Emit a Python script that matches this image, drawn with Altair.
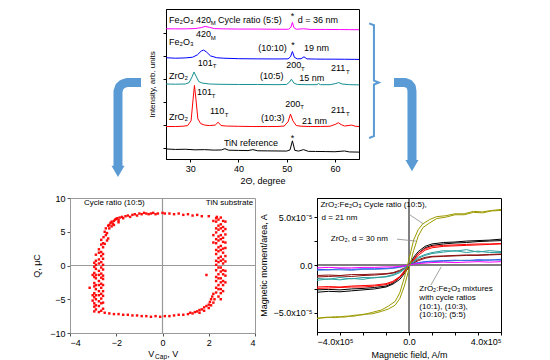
import altair as alt
import pandas as pd

FONT = "Liberation Sans"
ARROW = "#5b9bd5"

# ---------------- XRD patterns (top panel) ----------------
XRD_NAMES = ["TiN", "r103", "r105", "r1010", "r55"]
XRD_COLORS = ["#000000", "#ff0000", "#148f8f", "#0000ff", "#ff00ff"]
TIN_T = [25, 27, 29, 31, 33, 35, 36.5, 37.2, 38, 40, 42, 43, 44, 46, 48, 50, 50.7, 51.2, 51.7, 52.5, 53.5, 54.5, 56, 58, 60, 62, 63, 65]
TIN_I = [10.5, 10, 10.2, 9.6, 9.8, 9.3, 9.5, 10.8, 9.2, 9, 8.8, 9.8, 8.6, 8.5, 8.4, 8.3, 9.5, 19, 9, 8.3, 9.8, 8, 7.9, 7.8, 7.6, 8.4, 7.4, 7.2]
R_T = [25, 27, 28.5, 29.5, 30.2, 30.6, 30.9, 31.2, 31.6, 32.2, 33, 34, 35.2, 35.8, 36.4, 37.5, 40, 43, 46, 48, 49.5, 50.3, 50.8, 51.3, 52, 53, 55, 57, 59, 60.2, 60.7, 61.3, 62, 63.5, 64.2, 65]
R_I = [34, 34, 34.3, 35, 40, 62, 77, 63, 42, 37, 35.5, 35, 35.5, 38.5, 35, 34.5, 34.2, 34, 34, 34, 34.5, 39, 47, 40, 35, 34.3, 34, 34, 34.3, 36.5, 38, 36, 34.5, 35.5, 34.3, 34]
T_T = [25, 27, 29, 29.8, 30.4, 30.8, 31.2, 31.8, 32.5, 34, 36, 40, 44, 48, 50, 50.6, 51, 51.5, 52.2, 54, 56.3, 56.6, 57, 59, 60.2, 60.8, 61.5, 63, 65]
T_I = [78.5, 78.3, 78.5, 80, 86, 91, 87, 81, 79.5, 78.5, 78.2, 78, 78, 77.8, 78, 80.5, 83.5, 79.5, 78, 77.8, 77.8, 79, 77.8, 77.8, 79, 80, 78.5, 77.8, 77.6]
B_T = [25, 27, 29, 30.5, 31.5, 32.3, 32.8, 33.4, 34.2, 35.5, 37, 40, 44, 48, 50.3, 50.8, 51.2, 51.6, 52.2, 53, 53.6, 54.2, 56, 58, 60, 62, 64, 65]
B_I = [106, 105.5, 105.8, 106.5, 109, 113, 114, 112, 108, 106, 105.5, 105, 104.8, 104.7, 104.8, 107, 112.5, 106.5, 104.8, 105, 107, 104.8, 104.6, 104.5, 104.5, 104.4, 104.3, 104.2]
M_T = [25, 27, 29, 31, 32.3, 33.1, 34, 35, 37, 40, 44, 48, 50.4, 50.9, 51.2, 51.5, 52, 53.5, 55, 58, 61, 63, 65]
M_I = [136.3, 136.2, 136.2, 136.5, 137.5, 138.8, 137.8, 136.5, 136.2, 136, 136, 135.8, 135.8, 138, 143, 137.5, 135.8, 136.3, 135.6, 135.6, 135.5, 135.4, 135.3]

# ---------------- Q–V loop (bottom left) ----------------
Q_COLS = [
    (-3.02, [-5.2, -4.4, -1.4]),
    (-2.95, [-6.8, -6.1, -5.6, -4.7, -4.1, -3.1, -2.6, -1.7, -1.1, -0.2, 0.4]),
    (-2.88, [-6.5, -5.9, -5.0, -4.4, -3.5, -2.9, -1.9, -1.4, -0.5, 0.1, 0.7, 1.6]),
    (-2.75, [-6.9, -6.0, -5.3, -4.4, -3.8, -2.9, -2.3, -1.4, -0.8, 0.3, 0.9, 1.9, 2.4]),
    (-2.65, [-6.7, -5.6, -4.9, -4.2, -3.3, -2.7, -1.8, -1.2, -0.3, 0.5, 1.4, 2.0, 3.1, 3.8]),
    (-2.57, [-6.4, -5.5, -4.5, -3.8, -2.9, -2.0, -1.5, -0.6, 0.1, 1.0, 1.7, 2.7, 3.3]),
    (2.2, [4.5, 3.4, 6.6]),
    (2.32, [-4.0, -3.3, -2.3, -1.7, -0.7, 0.1, 0.7, 1.7, 2.3, 3.3, 3.9, 4.9, 5.5, 6.5, 7.0]),
    (2.42, [-4.6, -3.5, -2.9, -1.9, -1.3, -0.3, 0.5, 1.1, 2.1, 2.7, 3.7, 4.3, 5.3, 5.9, 6.8]),
    (2.52, [-5.0, -4.1, -3.5, -2.5, -1.9, -0.9, -0.3, 0.7, 1.3, 2.3, 2.9, 3.9, 4.5, 5.5, 6.1, 7.1]),
    (2.62, [-3.8, -2.9, -2.3, -1.3, -0.7, 0.3, 0.9, 1.9, 2.5, 3.5, 4.1, 5.1, 5.7, 6.6]),
    (2.72, [-2.5, -1.5, -0.8, 0.6, 1.4, 2.6, 3.4, 4.6, 5.4, 6.5]),
]
Q_BX = [-2.55, -2.5, -2.45, -2.4, -2.35, -2.3, -2.25, -2.2, -2.15, -2.1, -2.05, -2.0, -1.95, -1.9, -1.85, -1.75,
        -1.7, -1.6, -1.5, -1.4, -1.3, -1.2, -1.1, -1.0, -0.9, -0.8, -0.7, -0.6, -0.5, -0.4, -0.3, -0.2, 0.0, 0.1,
        0.3, 0.5, 0.7, 0.9, 1.1, 1.3, 1.5, 1.7, 2.0, 2.35, -2.3, -2.2, -2.1, -1.9, -2.45, -2.4, -2.5, -2.35, -3.15,
        -2.5, -2.3, -2.1, -1.9, -1.7, -1.5, -1.3, -1.1, -0.9, -0.7, -0.5, -0.3, -0.1, 0.1, 0.3, 0.5, 0.7, 0.9, 1.1,
        1.2, 1.3, 1.4, 1.5, 1.6, 1.7, 1.8, 1.9, 2.0, 2.05, 2.1, 2.15, 2.2, 2.0, 2.1, 1.8, 1.6, 2.2, 2.25, 1.9]
Q_BY = [4.2, 5.0, 5.5, 4.8, 5.9, 6.0, 6.3, 6.5, 6.2, 6.6, 6.8, 6.9, 7.0, 6.7, 7.1, 7.2,
        7.0, 7.3, 7.4, 7.2, 7.5, 7.6, 7.4, 7.7, 7.6, 7.8, 7.7, 7.6, 7.7, 7.8, 7.6, 7.7, 7.8, 7.7,
        7.7, 7.6, 7.7, 7.5, 7.6, 7.4, 7.5, 7.3, 7.3, 7.2, 5.5, 5.8, 6.0, 6.4, 4.5, 3.7, 3.2, 4.0, -3.3,
        -7.0, -7.1, -7.2, -7.2, -7.3, -7.3, -7.4, -7.4, -7.5, -7.5, -7.6, -7.5, -7.6, -7.5, -7.5, -7.4, -7.3, -7.3, -7.2,
        -7.0, -7.1, -6.9, -6.8, -6.6, -6.5, -6.2, -6.0, -5.8, -5.4, -5.0, -4.6, -4.2, -6.3, -5.9, -6.7, -7.0, -5.5, -5.0, -1.4]

# ---------------- Magnetisation loops (bottom right) ----------------
H_STD = [-4, -3.5, -3, -2.5, -2, -1.5, -1, -0.7, -0.4, -0.2, 0, 0.2, 0.4, 0.7, 1, 1.5, 2, 2.5, 3, 3.5, 4]
MAG_BLACK1 = [-2.6, -2.55, -2.6, -2.5, -2.45, -2.35, -2.2, -1.9, -1.3, -0.7, 0, 0.8, 1.4, 1.95, 2.2, 2.35, 2.4, 2.5, 2.55, 2.6, 2.7]
MAG_BLACK2 = [-2.85, -2.75, -2.8, -2.7, -2.6, -2.5, -2.3, -2.0, -1.5, -0.9, -0.2, 0.6, 1.2, 1.8, 2.05, 2.2, 2.3, 2.35, 2.45, 2.5, 2.55]
MAG_RED1 = [-2.3, -2.25, -2.3, -2.2, -2.15, -2.1, -1.95, -1.7, -1.2, -0.6, 0, 0.6, 1.2, 1.7, 1.95, 2.05, 2.1, 2.15, 2.2, 2.2, 2.25]
MAG_RED2 = [-2.45, -2.4, -2.35, -2.3, -2.3, -2.2, -2.05, -1.8, -1.3, -0.8, -0.1, 0.5, 1.0, 1.55, 1.8, 1.95, 2.0, 2.05, 2.1, 2.15, 2.2]
MAG_BROWN1 = [-1.1, -1.05, -1.1, -1.0, -1.0, -0.95, -0.9, -0.8, -0.55, -0.3, 0, 0.3, 0.55, 0.8, 0.9, 0.95, 1.0, 1.05, 1.05, 1.1, 1.15]
MAG_BROWN2 = [-1.25, -1.2, -1.15, -1.2, -1.1, -1.05, -0.95, -0.85, -0.65, -0.4, -0.1, 0.2, 0.45, 0.7, 0.85, 0.9, 0.95, 1.0, 1.0, 1.05, 1.1]
MAG_TEAL1 = [-1.4, -1.5, -1.3, -1.45, -1.3, -1.35, -1.2, -1.0, -0.7, -0.35, 0, 0.4, 0.8, 1.1, 1.3, 1.5, 1.45, 1.6, 1.35, 1.5, 1.4]
MAG_TEAL2 = [-1.6, -1.45, -1.55, -1.4, -1.5, -1.3, -1.25, -1.1, -0.8, -0.45, -0.1, 0.3, 0.7, 1.0, 1.2, 1.35, 1.5, 1.3, 1.45, 1.3, 1.3]
MAG_BLUE1 = [-0.45, -0.5, -0.4, -0.45, -0.4, -0.4, -0.35, -0.3, -0.2, -0.1, 0, 0.15, 0.25, 0.35, 0.4, 0.45, 0.5, 0.45, 0.55, 0.5, 0.6]
MAG_BLUE2 = [-0.55, -0.5, -0.5, -0.55, -0.45, -0.45, -0.4, -0.35, -0.25, -0.15, -0.05, 0.1, 0.2, 0.3, 0.35, 0.4, 0.45, 0.5, 0.45, 0.55, 0.5]
MAG_MAG1 = [-0.3, -0.25, -0.3, -0.3, -0.25, -0.25, -0.2, -0.2, -0.15, -0.1, 0, 0.1, 0.15, 0.2, 0.25, 0.3, 0.25, 0.3, 0.35, 0.3, 0.35]
H_OLIVE = [-4, -3.6, -3.2, -2.8, -2.4, -2.0, -1.6, -1.2, -0.9, -0.6, -0.4, -0.2, 0, 0.2, 0.4, 0.6, 0.9, 1.2, 1.6, 2.0, 2.4, 2.8, 3.2, 3.6, 4]
MAG_OLIVE_UP = [-5.6, -5.45, -5.5, -5.35, -5.35, -5.15, -5.1, -4.85, -4.6, -4.2, -3.5, -2.2, -0.4, 1.5, 3.0, 3.9, 4.4, 4.85, 5.0, 5.25, 5.25, 5.5, 5.45, 5.65, 5.7]
MAG_OLIVE_DN = [-5.55, -5.5, -5.4, -5.45, -5.25, -5.2, -4.95, -4.7, -4.3, -3.8, -2.9, -1.3, 0.6, 2.6, 3.7, 4.3, 4.75, 5.05, 5.15, 5.35, 5.35, 5.6, 5.55, 5.7, 5.8]
MAG_NAMES = ["black1", "black2", "red1", "red2", "brown1", "brown2", "teal1", "teal2", "blue1", "blue2", "mag1", "oliveU", "oliveD"]
MAG_COLORS = ["#000000", "#000000", "#ff0000", "#ff0000", "#8b1010", "#8b1010", "#2b9e9e", "#2b9e9e",
              "#1a3cff", "#3a7bd5", "#ff00ff", "#9c9a00", "#9c9a00"]

# ---------------- build tables ----------------
xrd_df = pd.concat([
    pd.DataFrame({"x": t, "y": i, "s": n}) for t, i, n in
    [(TIN_T, TIN_I, "TiN"), (R_T, R_I, "r103"), (T_T, T_I, "r105"), (B_T, B_I, "r1010"), (M_T, M_I, "r55")]
])
qx, qy = [], []
for cx, ys in Q_COLS:
    for v in ys:
        qx.append(cx)
        qy.append(v)
q_df = pd.DataFrame({"x": qx + Q_BX, "y": qy + Q_BY})
mag_sets = [(H_STD, MAG_BLACK1, "black1"), (H_STD, MAG_BLACK2, "black2"), (H_STD, MAG_RED1, "red1"),
            (H_STD, MAG_RED2, "red2"), (H_STD, MAG_BROWN1, "brown1"), (H_STD, MAG_BROWN2, "brown2"),
            (H_STD, MAG_TEAL1, "teal1"), (H_STD, MAG_TEAL2, "teal2"), (H_STD, MAG_BLUE1, "blue1"),
            (H_STD, MAG_BLUE2, "blue2"), (H_STD, MAG_MAG1, "mag1"), (H_OLIVE, MAG_OLIVE_UP, "oliveU"),
            (H_OLIVE, MAG_OLIVE_DN, "oliveD")]
mag_df = pd.concat([pd.DataFrame({"x": h, "y": m, "m": n}) for h, m, n in mag_sets])

# ---------------- annotations ----------------
top_labels = pd.DataFrame([
    ("Fe₂O₃", 25.6, 145, 9), ("420", 31.2, 146, 9), ("M", 34.3, 142, 6), ("Cycle ratio (5:5)", 35.8, 145, 9),
    ("d = 36 nm", 52.3, 145, 9),
    ("Fe₂O₃", 25.6, 122, 9), ("420", 31.2, 131, 9), ("M", 34.3, 127, 6), ("(10:10)", 44.1, 116, 9), ("19 nm", 53.6, 116, 9),
    ("ZrO₂", 25.6, 87, 9), ("101", 31.6, 101, 9), ("T", 34.7, 97, 6), ("(10:5)", 44.5, 87, 9), ("200", 49.9, 98, 9),
    ("T", 53.0, 94, 6), ("15 nm", 52.6, 85, 9), ("211", 59.2, 95, 9), ("T", 62.3, 91, 6),
    ("ZrO₂", 25.6, 44, 9), ("101", 31.4, 70, 9), ("T", 34.5, 66, 6), ("110", 34.1, 50, 9), ("T", 37.2, 46, 6),
    ("(10:3)", 44.7, 43, 9), ("200", 49.7, 58, 9), ("T", 52.8, 54, 6), ("21 nm", 53.2, 40, 9), ("211", 59.2, 51, 9),
    ("T", 62.3, 47, 6), ("TiN reference", 37.0, 17, 9),
], columns=["t", "x", "y", "fs"])
top_stars = pd.DataFrame({"t": ["*", "*", "*"], "x": [51.2, 51.3, 51.2], "y": [150, 119, 22]})
deco = pd.DataFrame([
    ("L", 0, 19.82, 80), ("L", 1, 16.92, 80), ("L", 2, 15.98, 78.5), ("L", 3, 15.36, 75.5), ("L", 4, 15.05, 71), ("L", 5, 15.05, -8),
    ("R", 0, 72.25, 80), ("R", 1, 74.53, 80), ("R", 2, 75.36, 78.5), ("R", 3, 75.84, 75.5), ("R", 4, 75.98, 71), ("R", 5, 75.98, -2),
], columns=["g", "o", "x", "y"])
heads = pd.DataFrame({"x": [15.05, 75.98], "y": [-13, -7]})
bracket = pd.DataFrame({"o": [0, 1, 2, 3, 4, 5, 6], "x": [67.1, 68.1, 68.1, 69.1, 68.1, 68.1, 67.1],
                        "y": [142, 140, 82, 80, 78, 24, 22]})

q_labels_l = pd.DataFrame({"t": ["Cycle ratio (10:5)"], "x": [-3.4], "y": [9.3]})
q_labels_r = pd.DataFrame({"t": ["TiN substrate"], "x": [3.92], "y": [9.3]})
q_title = pd.DataFrame([("V", -0.62, -13.1, 9), ("Cap", -0.32, -13.6, 6.5), (", V", 0.2, -13.1, 9)],
                       columns=["t", "x", "y", "fs"])
mag_labels = pd.DataFrame([
    ("ZrO₂:Fe₂O₃ Cycle ratio (10:5),", -3.85, 6.25), ("d = 21 nm", -3.8, 4.9), ("ZrO₂, d = 30 nm", -3.4, 2.7),
    ("ZrO₂:Fe₂O₃ mixtures", 0.45, -2.55), ("with cycle ratios", 0.45, -3.45), ("(10:1), (10:3),", 0.45, -4.35),
    ("(10:10); (5:5)", 0.45, -5.2),
], columns=["t", "x", "y"])
leaders = pd.DataFrame({"g": [1, 1, 2, 2, 3, 3], "x": [0.0, 0.62, -0.52, 0.3, 0.95, 1.4],
                        "y": [5.3, 4.3, 2.7, 2.5, -2.1, -0.2]})

# ---------------- top: XRD ----------------
tx = alt.X("x:Q", scale=alt.Scale(domain=[25, 65], nice=False, zero=False),
           axis=alt.Axis(values=[30, 40, 50, 60], title="2Θ, degree", tickSize=3, labelPadding=2, titlePadding=3))
ty = alt.Y("y:Q", scale=alt.Scale(domain=[0, 157], nice=False),
           axis=alt.Axis(labels=False, values=[12, 36, 60, 84, 108, 132], tickSize=3,
                         title="Intensity, arb. units", titleFontSize=8, titlePadding=6))
xrd_lines = alt.Chart(xrd_df).mark_line(strokeWidth=1).encode(
    x=tx, y=ty, color=alt.Color("s:N", scale=alt.Scale(domain=XRD_NAMES, range=XRD_COLORS), legend=None))
xrd_text = alt.Chart(top_labels).mark_text(align="left", baseline="middle", color="black").encode(
    x=tx, y=ty, text="t:N", size=alt.Size("fs:Q", scale=None))
xrd_star = alt.Chart(top_stars).mark_text(align="center", baseline="middle", color="black", fontSize=9).encode(
    x=tx, y=ty, text="t:N")
arrows = alt.Chart(deco).mark_line(strokeWidth=9, color=ARROW, strokeJoin="round", strokeCap="butt").encode(
    x=tx, y=ty, detail="g:N", order="o:Q")
arrow_heads = alt.Chart(heads).mark_point(shape="triangle-down", filled=True, size=170, color=ARROW, opacity=1).encode(
    x=tx, y=ty)
brack = alt.Chart(bracket).mark_line(strokeWidth=2, color=ARROW).encode(x=tx, y=ty, order="o:Q")
xrd = alt.layer(arrows, arrow_heads, brack, xrd_lines, xrd_text, xrd_star).properties(
    width=193, height=150, view=alt.ViewBackground(stroke="black", strokeWidth=1))

spacer = alt.Chart(pd.DataFrame({"x": [0], "y": [0]})).mark_point(opacity=0, size=1).encode(
    x=alt.X("x:Q", axis=None), y=alt.Y("y:Q", axis=None)).properties(
    width=39, height=150, view=alt.ViewBackground(stroke="transparent"))

# ---------------- bottom left: Q-V ----------------
qxe = alt.X("x:Q", scale=alt.Scale(domain=[-4, 4], nice=False),
            axis=alt.Axis(values=[-4, -2, 0, 2, 4], title="", tickSize=3, domainColor="#999999", tickColor="#555555"))
qye = alt.Y("y:Q", scale=alt.Scale(domain=[-10, 10], nice=False),
            axis=alt.Axis(values=[-10, -5, 0, 5, 10], title="Q, μC", tickSize=3, domainColor="#999999",
                          tickColor="#555555", titlePadding=8))
q_zero = alt.Chart(pd.DataFrame({"x": [0], "y": [0]}))
q_h = q_zero.mark_rule(color="#999999", strokeWidth=1.2).encode(y=qye)
q_v = q_zero.mark_rule(color="#999999", strokeWidth=1.2).encode(x=qxe)
q_pts = alt.Chart(q_df).mark_square(size=6, color="#ff0000", opacity=0.95).encode(x=qxe, y=qye)
q_tl = alt.Chart(q_labels_l).mark_text(align="left", baseline="middle", fontSize=8, color="black").encode(
    x=qxe, y=qye, text="t:N")
q_tr = alt.Chart(q_labels_r).mark_text(align="right", baseline="middle", fontSize=8, color="black").encode(
    x=qxe, y=qye, text="t:N")
q_tt = alt.Chart(q_title).mark_text(align="left", baseline="middle", color="black").encode(
    x=qxe, y=qye, text="t:N", size=alt.Size("fs:Q", scale=None))
qv = alt.layer(q_h, q_v, q_pts, q_tl, q_tr, q_tt).properties(
    width=185, height=135, view=alt.ViewBackground(stroke="#999999", strokeWidth=1))

# ---------------- bottom right: magnetisation ----------------
mxe = alt.X("x:Q", scale=alt.Scale(domain=[-4, 4], nice=False),
            axis=alt.Axis(values=[-4, -3, -2, -1, 0, 1, 2, 3, 4], tickSize=3, title="Magnetic field, A/m",
                          labelExpr="datum.value == 0 ? '0.0' : (datum.value % 2 == 0 ? format(datum.value, '.1f') + 'x10⁵' : '')"))
mye = alt.Y("y:Q", scale=alt.Scale(domain=[-7, 7], nice=False),
            axis=alt.Axis(values=[-5, -2.5, 0, 2.5, 5], tickSize=3, title="Magnetic moment/area, A",
                          labelExpr="datum.value == 0 ? '0.0' : (abs(datum.value) == 5 ? format(datum.value, '.1f') + 'x10⁻⁵' : '')"))
m_zero = alt.Chart(pd.DataFrame({"x": [0], "y": [0]}))
m_h = m_zero.mark_rule(color="black", strokeWidth=1).encode(y=mye)
m_v = m_zero.mark_rule(color="black", strokeWidth=1).encode(x=mxe)
m_lines = alt.Chart(mag_df).mark_line(strokeWidth=1).encode(
    x=mxe, y=mye, stroke=alt.Stroke("m:N", scale=alt.Scale(domain=MAG_NAMES, range=MAG_COLORS), legend=None))
m_lead = alt.Chart(leaders).mark_line(color="#888888", strokeWidth=0.8).encode(x=mxe, y=mye, detail="g:N")
m_text = alt.Chart(mag_labels).mark_text(align="left", baseline="middle", fontSize=8, color="black").encode(
    x=mxe, y=mye, text="t:N")
mag = alt.layer(m_h, m_v, m_lines, m_lead, m_text).properties(
    width=184, height=134, view=alt.ViewBackground(stroke="black", strokeWidth=1))

top_row = alt.hconcat(spacer, xrd, spacing=0)
bottom_row = alt.hconcat(qv, mag, spacing=2)
chart = alt.vconcat(top_row, bottom_row, spacing=7).resolve_scale(color="independent", stroke="independent").properties(
    padding={"left": 24, "top": 0, "right": 0, "bottom": 0}
).configure(font=FONT).configure_axis(
    labelFont=FONT, titleFont=FONT, labelFontSize=9, titleFontSize=9, labelColor="black", titleColor="black",
    titleFontWeight="normal", tickColor="black", domainColor="black", grid=False
).configure_view(stroke="black")

chart.save("out.html", embed_options={"renderer": "svg", "actions": False})
